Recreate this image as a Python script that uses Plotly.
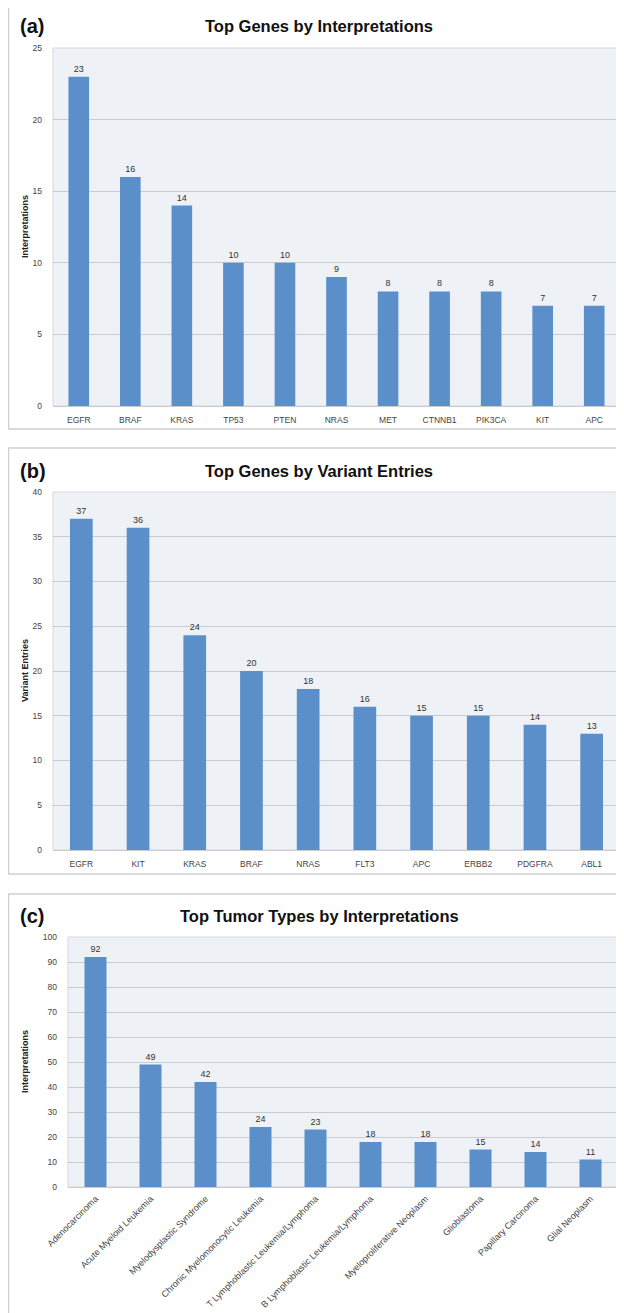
import plotly.graph_objects as go

# Screen offset: the page body has an 8px margin, so figure coords = screen coords - 8
OFF = 8
W, H = 616, 1305

genes_a = ["EGFR", "BRAF", "KRAS", "TP53", "PTEN", "NRAS", "MET", "CTNNB1", "PIK3CA", "KIT", "APC"]
interp_a = [23, 16, 14, 10, 10, 9, 8, 8, 8, 7, 7]

genes_b = ["EGFR", "KIT", "KRAS", "BRAF", "NRAS", "FLT3", "APC", "ERBB2", "PDGFRA", "ABL1"]
variants_b = [37, 36, 24, 20, 18, 16, 15, 15, 14, 13]

tumors_c = ["Adenocarcinoma", "Acute Myeloid Leukemia", "Myelodysplastic Syndrome",
            "Chronic Myelomonocytic Leukemia", "T Lymphoblastic Leukemia/Lymphoma",
            "B Lymphoblastic Leukemia/Lymphoma", "Myeloproliferative Neoplasm",
            "Glioblastoma", "Papillary Carcinoma", "Glial Neoplasm"]
interp_c = [92, 49, 42, 24, 23, 18, 18, 15, 14, 11]

BAR = "#5B8FC9"
BG = "#EEF2F7"
GRID = "#C9CBCE"
FONT = "Liberation Sans, Arial, sans-serif"

def sx(x):
    return (x - OFF) / W

def sy(y):
    return 1 - (y - OFF) / H

fig = go.Figure()

panels = [
    dict(x=genes_a, y=interp_a, xl=53, xr=620, top=48, bot=406, rng=25, dt=5,
         title="Top Genes by Interpretations", tag="(a)", ytitle="Interpretations",
         box=(OFF + 0.5, 6, 622, 429), ty=26, angle=0, xfs=8.5, st=6),
    dict(x=genes_b, y=variants_b, xl=53, xr=620, top=492, bot=850, rng=40, dt=5,
         title="Top Genes by Variant Entries", tag="(b)", ytitle="Variant Entries",
         box=(OFF + 0.5, 448, 622, 874), ty=471, angle=0, xfs=8.5, st=6),
    dict(x=tumors_c, y=interp_c, xl=68, xr=618, top=937, bot=1187, rng=100, dt=10,
         title="Top Tumor Types by Interpretations", tag="(c)", ytitle="Interpretations",
         box=(OFF + 0.5, 894, 622, 1340), ty=916, angle=-45, xfs=9, st=2),
]

for i, p in enumerate(panels):
    n = "" if i == 0 else str(i + 1)
    fig.add_trace(go.Bar(
        x=p["x"], y=p["y"], xaxis="x" + n, yaxis="y" + n,
        marker=dict(color=BAR, line=dict(width=0)),
        text=[str(v) for v in p["y"]], textposition="outside",
        textfont=dict(size=9, color="#333333", family=FONT),
        cliponaxis=False, showlegend=False,
    ))
    fig.update_layout(**{
        "xaxis" + n: dict(
            domain=[sx(p["xl"]), sx(p["xr"])], anchor="y" + n,
            tickfont=dict(size=p["xfs"], color="#444444", family=FONT),
            tickangle=p["angle"], showline=True, linecolor=GRID, linewidth=1,
            ticks="", showgrid=False, fixedrange=True, automargin=False,
            ticklabelstandoff=p["st"],
        ),
        "yaxis" + n: dict(
            domain=[sy(p["bot"]), sy(p["top"])], anchor="x" + n,
            range=[0, p["rng"]], dtick=p["dt"], tick0=0,
            tickfont=dict(size=8.5, color="#444444", family=FONT),
            showgrid=True, gridcolor=GRID, gridwidth=1, zeroline=False,
            showline=False, ticks="", ticklabelstandoff=10, automargin=False,
        ),
    })
    x0, y0, x1, y1 = p["box"]
    fig.add_shape(type="rect", xref="paper", yref="paper",
                  x0=sx(x0), x1=sx(x1), y0=sy(y1), y1=sy(y0),
                  line=dict(color="#CFCFCF", width=1.5), fillcolor="rgba(0,0,0,0)",
                  layer="below")
    fig.add_shape(type="rect", xref="paper", yref="paper",
                  x0=sx(p["xl"]), x1=sx(p["xr"]), y0=sy(p["bot"]), y1=sy(p["top"]),
                  line=dict(color="#D5D8DC", width=1), fillcolor=BG, layer="below")
    fig.add_annotation(x=sx(319), y=sy(p["ty"]), xref="paper", yref="paper",
                       text="<b>" + p["title"] + "</b>", showarrow=False,
                       font=dict(size=16.5, color="#111111", family=FONT),
                       xanchor="center", yanchor="middle")
    fig.add_annotation(x=sx(18), y=sy(p["ty"]), xref="paper", yref="paper",
                       text="<b>" + p["tag"] + "</b>", showarrow=False,
                       font=dict(size=20, color="#111111", family=FONT),
                       xanchor="left", yanchor="middle")
    fig.add_annotation(x=sx(25), y=sy((p["top"] + p["bot"]) / 2), xref="paper", yref="paper",
                       text="<b>" + p["ytitle"] + "</b>", showarrow=False, textangle=-90,
                       font=dict(size=9, color="#222222", family=FONT),
                       xanchor="center", yanchor="middle")

fig.update_layout(
    width=W, height=H, margin=dict(l=0, r=0, t=0, b=0, autoexpand=False),
    paper_bgcolor="white", plot_bgcolor="rgba(0,0,0,0)",
    bargap=0.6, font=dict(family=FONT),
)

fig.write_html("out.html")
